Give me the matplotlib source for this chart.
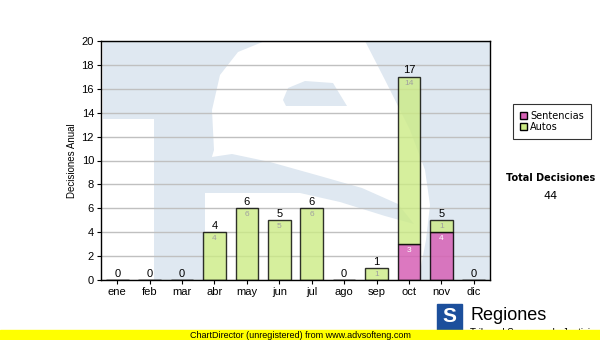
import matplotlib.pyplot as plt
from matplotlib.patches import Polygon, Rectangle
from matplotlib.transforms import Affine2D
import numpy as np

# Data
months = ['ene', 'feb', 'mar', 'abr', 'may', 'jun', 'jul', 'ago', 'sep', 'oct', 'nov', 'dic']
sentencias = [0, 0, 0, 0, 0, 0, 0, 0, 0, 3, 4, 0]
autos = [0, 0, 0, 4, 6, 5, 6, 0, 1, 14, 1, 0]
series_names = ['Sentencias', 'Autos']
y_label = 'Decisiones Anual'
total_title = 'Total Decisiones'

plt.rcParams['font.family'] = ['Liberation Sans', 'DejaVu Sans']

fig = plt.figure(figsize=(6, 3.4), dpi=100)
ax = fig.add_axes([101/600, 60/340, 389/600, 239/340])
# pixel coordinates (y down) -> figure
px = Affine2D().scale(1/600, -1/340).translate(0, 1) + fig.transFigure

# watermark behind the bars
wm = '#dfe8f1'
def shape(pts, color):
    p = Polygon(pts, closed=True, transform=px, facecolor=color,
                edgecolor='none', zorder=0)
    ax.add_patch(p)
    p.set_clip_path(ax.patch)

shape([(103, 41), (490, 41), (490, 280), (103, 280)], wm)
shape([(101, 119), (154, 119), (154, 282), (101, 282)], 'white')
# white S
shape([(265, 41), (365, 41), (385, 80), (410, 130), (425, 170),
       (430, 205), (426, 240), (418, 282), (205, 282), (205, 192),
       (208, 170), (214, 150), (212, 110), (220, 75), (238, 52)], 'white')
# upper counter
shape([(283, 100), (288, 88), (305, 81), (333, 83), (347, 106),
       (286, 106)], wm)
# lower counter
shape([(205, 158), (232, 154), (270, 162), (320, 176), (362, 188),
       (398, 204), (414, 224), (385, 216), (340, 202), (300, 193),
       (205, 193)], wm)

x = np.arange(len(months))
s = np.array(sentencias)
a = np.array(autos)
tot = s + a
pink = (0.84, 0.38, 0.71)
green = (0.80, 0.92, 0.52)
ax.bar(x, s, 0.7, color=pink, alpha=0.85, edgecolor='black', lw=1,
       zorder=2, label=series_names[0])
ax.bar(x, a, 0.7, bottom=s, color=green, alpha=0.8, edgecolor='black',
       lw=1, zorder=2, label=series_names[1])

for i in range(len(months)):
    ax.annotate(str(tot[i]), (x[i], tot[i]), xytext=(0, 1),
                textcoords='offset points', ha='center', va='bottom',
                fontsize=8, zorder=4)
    if s[i] > 0:
        ax.annotate(str(s[i]), (x[i], s[i]), xytext=(0, -2),
                    textcoords='offset points', ha='center', va='top',
                    fontsize=6, color='white', zorder=4)
    if a[i] > 0:
        ax.annotate(str(a[i]), (x[i], tot[i]), xytext=(0, -2),
                    textcoords='offset points', ha='center', va='top',
                    fontsize=6, color='#a0a0a0', zorder=4)

ax.set_xlim(-0.5, 11.5)
ax.set_ylim(0, 20)
ax.set_yticks(range(0, 21, 2))
ax.set_xticks(x)
ax.set_xticklabels(months)
ax.tick_params(labelsize=8, length=3, width=0.8, pad=2)
ax.set_facecolor('none')
ax.set_axisbelow(True)
ax.grid(axis='y', color='#c0c0c0', lw=1)
for sp in ax.spines.values():
    sp.set_linewidth(1)
ax.set_ylabel(y_label, fontsize=7, labelpad=3)

leg = fig.legend(loc='upper left', bbox_to_anchor=(508/600, 1 - 99/340),
                 frameon=True, fancybox=False, edgecolor='black',
                 handlelength=0.8, handleheight=0.8, handletextpad=0.3,
                 borderpad=0.7, labelspacing=0.15,
                 prop={'family': 'DejaVu Sans', 'size': 7})
leg.get_frame().set_linewidth(0.8)
for h in leg.legend_handles:
    h.set_alpha(1)

fig.text(551/600, 1 - 178/340, total_title, ha='center', va='center',
         fontsize=7, weight='bold', family='DejaVu Sans')
fig.text(551/600, 1 - 196/340, str(int(tot.sum())), ha='center',
         va='center', fontsize=8, family='DejaVu Sans')

# logo and footer
fig.patches.append(Rectangle((437/600, 1 - 332/340), 25/600, 28/340,
                             transform=fig.transFigure, color='#1c4f9c'))
fig.text(449.5/600, 1 - 316/340, 'S', ha='center', va='center',
         fontsize=15, weight='bold', color='white')
fig.text(470/600, 1 - 316/340, 'Regiones', ha='left', va='center',
         fontsize=13)
fig.text(470/600, 1 - 333/340, 'Tribunal Supremo de Justicia', ha='left',
         va='center', fontsize=7)
fig.patches.append(Rectangle((0, 0), 1, 10/340, transform=fig.transFigure,
                             color='#ffff00', zorder=5))
fig.text(300/600, 5/340, 'ChartDirector (unregistered) from www.advsofteng.com',
         ha='center', va='center', fontsize=6.5, zorder=6)

fig.savefig('out.png', dpi=100)
